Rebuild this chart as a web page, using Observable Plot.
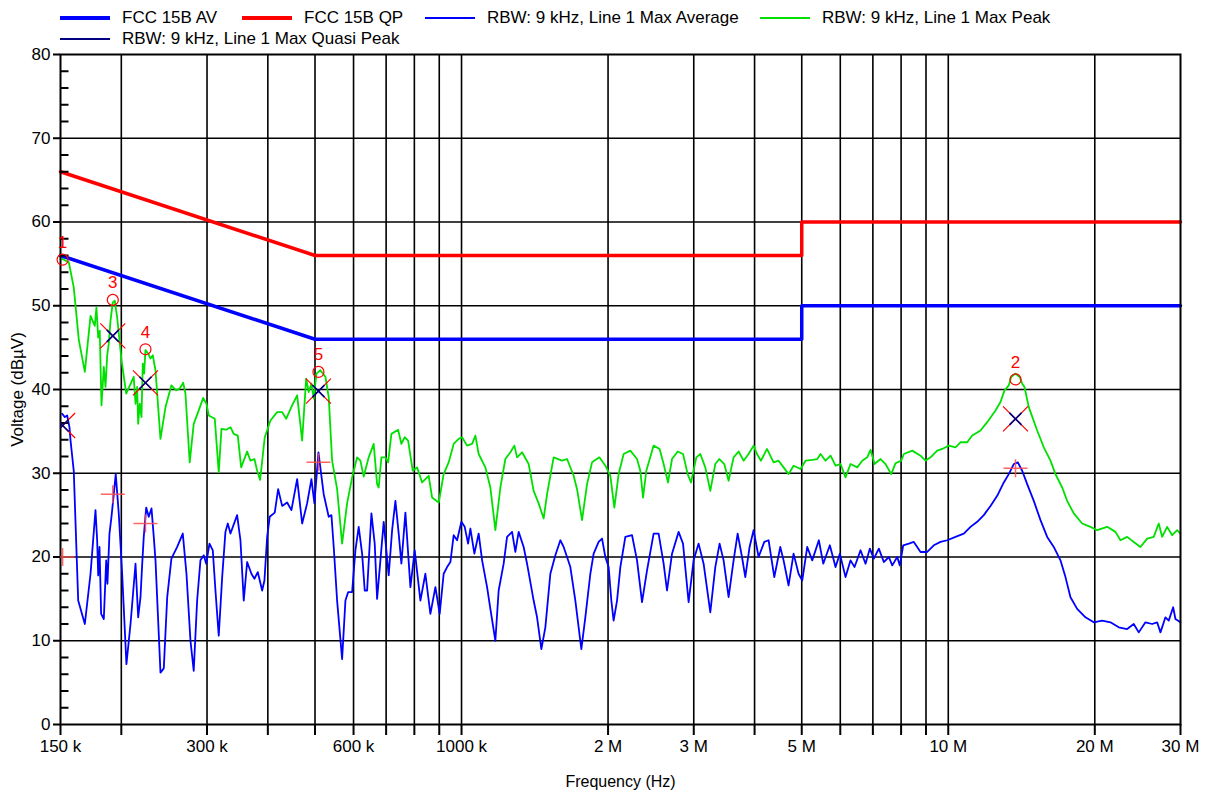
<!DOCTYPE html>
<html><head><meta charset="utf-8">
<script src="https://cdn.jsdelivr.net/npm/d3@7"></script>
<script src="https://cdn.jsdelivr.net/npm/@observablehq/plot@0.6"></script>
<style>
body{margin:0;background:#fff;font-family:"Liberation Sans",Arial,sans-serif;}
#legend{position:relative;width:1208px;height:44px;}
.item{position:absolute;display:flex;align-items:center;height:20px;font-size:17px;color:#000;white-space:nowrap}
.swatch{width:50px;margin-right:12px}
#chart svg{display:block}
</style></head><body>
<div id="legend"></div>
<div id="chart"></div>
<script>
// ---- data (frequency in kHz, level in dBµV) ----
const seriesNames = ["FCC 15B AV","FCC 15B QP","RBW: 9 kHz, Line 1 Max Average","RBW: 9 kHz, Line 1 Max Peak","RBW: 9 kHz, Line 1 Max Quasi Peak"];
const seriesColors = ["#0000ff","#ff0000","#0000ff","#00e000","#000080"];

const limitAV = [[150,56],[500,46],[5000,46],[5000,50],[30000,50]];
const limitQP = [[150,66],[500,56],[5000,56],[5000,60],[30000,60]];

const maxPeak = [[151.2,55.6],[156.0,55.2],[159.7,52.2],[163.6,45.9],[168.3,42.1],[172.9,48.8],[176.4,47.6],[177.8,49.8],[179.3,46.2],[180.6,47.0],
[182.1,38.1],[184.1,42.7],[185.6,40.3],[187.1,44.1],[188.5,45.5],[190.0,48.2],[192.1,50.4],[193.9,50.6],[196.1,48.6],[200.2,43.5],
[204.7,39.5],[212.1,41.5],[213.9,38.3],[215.6,40.3],[216.6,35.9],[218.2,38.3],[220.0,36.7],[221.4,43.1],[222.8,41.9],[224.2,44.7],
[227.1,44.3],[229.6,43.7],[232.1,44.1],[235.1,42.3],[240.7,34.1],[246.5,37.9],[253.5,40.5],[259.2,39.9],[263.4,40.1],[268.0,40.8],
[270.9,39.5],[276.4,31.3],[281.7,35.9],[288.5,37.5],[294.6,39.0],[299.2,38.3],[302.5,36.9],[311.2,36.5],[317.1,30.1],[321.2,35.3],
[328.5,35.2],[335.2,35.5],[340.4,34.7],[347.0,34.5],[352.6,30.7],[362.7,32.6],[368.4,31.5],[375.4,31.7],[380.3,30.3],[385.7,29.2],
[394.2,34.3],[405.0,36.3],[418.0,37.3],[428.0,37.3],[436.2,36.5],[448.7,38.1],[459.5,39.3],[470.5,33.9],[479.5,41.3],[485.3,39.7],
[491.6,40.7],[497.0,38.9],[503.4,41.9],[513.0,42.3],[525.3,41.5],[533.5,39.1],[542.2,31.5],[555.1,28.1],[568.4,21.6],[582.0,26.4],
[596.0,29.5],[610.2,31.9],[619.8,31.5],[629.5,29.6],[644.6,31.9],[660.0,33.5],[670.7,28.7],[675.8,28.3],[684.5,31.9],[697.6,31.9],
[706.6,31.3],[717.7,34.7],[740.8,35.2],[752.4,33.5],[764.3,34.3],[776.7,33.9],[793.8,30.3],[810.4,30.7],[829.8,28.9],[856.1,29.7],
[870.0,27.1],[897.6,26.5],[919.0,29.9],[941.0,31.3],[963.5,33.5],[986.6,34.1],[1002.6,34.3],[1026.6,33.3],[1051.2,33.5],[1067.7,34.5],
[1084.5,32.3],[1119.4,30.7],[1146.2,28.3],[1173.6,23.2],[1201.7,28.3],[1230.4,31.7],[1259.9,32.5],[1284.0,33.3],[1300.5,31.9],[1331.6,32.5],
[1373.7,31.1],[1406.6,27.9],[1440.3,26.4],[1474.8,24.6],[1498.8,27.5],[1546.2,31.9],[1608.9,31.5],[1647.4,31.7],[1699.6,29.7],[1727.2,28.1],
[1768.5,24.4],[1810.8,28.7],[1854.2,31.3],[1919.5,31.9],[1974.5,30.9],[2021.8,29.7],[2060.4,25.9],[2102.7,29.9],[2153.0,32.3],[2222.3,32.7],
[2293.9,31.7],[2329.9,30.3],[2360.0,27.1],[2397.0,30.3],[2481.2,33.3],[2552.5,32.9],[2601.3,31.1],[2656.1,28.9],[2706.8,31.7],[2780.2,32.6],
[2851.4,32.3],[2914.8,29.9],[2961.3,28.9],[3036.6,31.9],[3094.4,32.3],[3168.4,30.7],[3244.3,27.9],[3321.8,31.1],[3385.8,31.7],[3466.4,31.1],
[3537.5,29.1],[3622.1,31.9],[3708.7,32.6],[3797.5,31.5],[3888.4,32.3],[3981.4,33.3],[4046.1,32.3],[4123.3,31.5],[4242.0,32.9],[4376.3,31.3],
[4481.0,31.5],[4588.3,30.7],[4698.1,29.9],[4810.6,30.9],[4972,30.5],[5090.8,31.5],[5255.0,31.6],[5380.7,31.7],[5465.3,32.3],[5596.0,31.5],
[5730.0,32.1],[5867.0,30.9],[6007.5,31.1],[6151.1,29.5],[6298.4,31.1],[6501.2,30.7],[6656.9,31.5],[6816.0,31.9],[6923.2,32.8],[7055.4,31.1],
[7258.5,31.7],[7432.0,31.1],[7635.1,29.9],[7791.9,31.2],[8004.8,31.5],[8103.8,32.3],[8432.7,32.7],[8770.0,32.1],[8979.6,31.5],[9194.7,31.9],
[9490.8,32.7],[9718.1,32.9],[10025.6,33.3],[10348.4,33.1],[10596.3,33.7],[10937.5,33.7],[11199.4,34.5],[11647.4,35.1],[12022.4,36.1],[12503.4,37.5],
[12802.9,38.5],[13047.4,39.9],[13315.0,40.5],[13467.2,41.5],[13743.7,41.9],[14025.6,41.5],[14186.9,40.7],[14341.7,40.3],[14635.8,37.9],[15229.5,35.1],
[15711.8,33.1],[16218.0,31.5],[16605.6,29.9],[17141.1,28.3],[17550.9,26.7],[18106.7,25.2],[18841.5,24.0],[19595.2,23.6],[20226.2,23.2],[21205.7,23.6],
[22053.9,23.0],[22582.2,22.0],[23309.3,22.4],[24047.5,21.8],[24822.3,21.2],[25621.6,22.2],[26433.0,22.4],[27065.4,24.0],[27505.7,22.4],[28163.3,23.6],
[28837.7,22.6],[29527.1,23.2],[29991,22.8]];

const maxAverage = [[151.2,37.1],[153.1,36.7],[154.8,36.9],[156.5,35.5],[157.3,33.9],[159.7,30.3],[163.1,14.8],[168.3,12.0],[172.9,18.0],[177.0,25.6],
[178.4,22.0],[179.3,17.8],[180.4,21.2],[181.8,13.2],[184.1,12.6],[186.2,19.6],[187.3,16.8],[189.1,22.8],[190.9,24.8],[193.0,27.5],
[194.8,29.9],[197.6,25.2],[200.8,18.0],[204.9,7.2],[208.9,12.0],[213.9,19.2],[216.6,12.8],[219.0,15.2],[220.7,19.0],[222.4,22.4],
[225.0,25.9],[227.7,24.8],[230.7,25.8],[233.2,22.4],[235.1,19.6],[240.7,6.2],[244.5,6.7],[248.5,15.2],[253.5,19.8],[260.5,21.2],
[267.5,22.8],[272.2,18.0],[277.4,10.0],[281.7,6.4],[286.3,14.8],[290.8,19.6],[295.4,20.2],[298.8,19.2],[303.5,21.6],[308.3,20.8],
[312.2,16.0],[317.1,10.6],[322.3,17.6],[327.3,23.0],[331.0,24.0],[335.2,22.8],[345.9,25.0],[351.4,22.0],[356.9,14.8],[362.7,19.4],
[370.1,18.0],[375.4,17.4],[381.4,18.2],[389.4,16.0],[393.6,17.2],[398.7,22.4],[403.6,24.8],[413.3,25.3],[420.0,28.1],[428.0,26.1],
[438.2,26.5],[447.2,25.6],[459.5,29.3],[470.5,24.0],[481.7,26.4],[491.6,29.3],[498.6,26.4],[508.2,32.5],[521.0,27.5],[533.5,24.8],
[540.4,25.0],[546.3,21.2],[555.1,14.8],[568.4,7.8],[577.4,14.8],[584.8,15.8],[596.0,15.8],[605.3,20.8],[614.8,23.6],[624.8,20.4],
[632.6,16.0],[639.8,16.0],[652.9,25.2],[663.2,21.6],[670.7,15.0],[692.0,24.2],[708.5,17.8],[720.1,23.2],[731.4,26.7],[742.9,22.8],
[752.4,19.2],[766.8,25.3],[785.2,16.4],[801.3,20.8],[823.2,14.8],[842.8,18.0],[863.0,13.2],[883.7,16.4],[901.8,13.2],[919.0,18.0],
[934.0,18.8],[948.7,19.4],[963.5,22.6],[979.2,22.0],[999.3,24.2],[1015.1,23.6],[1031.5,21.6],[1042.8,23.4],[1062.7,20.4],[1084.5,22.8],
[1102.2,19.6],[1128.5,16.4],[1146.2,13.8],[1173.6,10.0],[1192.0,16.0],[1220.6,19.2],[1240.4,22.4],[1270.1,23.0],[1290.0,20.6],[1310.3,23.0],
[1341.6,21.2],[1363.4,19.2],[1406.6,14.8],[1429.5,12.8],[1458.9,9.0],[1486.7,11.6],[1522.3,18.0],[1558.7,20.2],[1596.0,22.0],[1621.1,21.2],
[1647.4,20.0],[1673.3,18.8],[1713.3,14.8],[1762.6,9.0],[1796.2,12.8],[1839.3,18.0],[1868.2,20.4],[1912.9,21.8],[1944.0,22.2],[1974.5,20.0],
[2005.5,18.8],[2031.4,14.8],[2053.5,12.4],[2086.9,14.8],[2119.7,18.8],[2170.4,22.4],[2240.3,22.6],[2293.9,19.6],[2348.8,14.6],[2405.0,18.4],
[2481.2,22.8],[2540.5,22.8],[2601.3,19.2],[2643.6,16.0],[2706.8,20.4],[2792.5,23.0],[2851.4,21.6],[2927.7,14.6],[2997.8,19.6],[3069.6,21.6],
[3143.0,19.2],[3244.3,13.4],[3321.8,18.8],[3390.0,21.6],[3454.8,19.6],[3537.5,15.2],[3622.1,19.6],[3692.3,22.8],[3769.1,20.0],[3828.2,17.6],
[3906.7,21.2],[3981.4,23.2],[4076.7,20.0],[4188.2,21.8],[4274.1,22.0],[4391.0,17.6],[4517.4,21.2],[4588.3,19.6],[4698.1,16.6],[4810.6,20.4],
[4925.6,18.0],[5012.3,17.2],[5132.1,21.2],[5255.0,19.6],[5421.3,22.0],[5535.8,19.2],[5710.7,21.4],[5867.0,18.8],[5987.3,20.4],[6151.1,17.6],
[6298.4,19.6],[6418.7,18.8],[6603.4,20.8],[6761.2,19.2],[6899.9,21.0],[7031.9,19.8],[7200.1,21.0],[7372.5,19.4],[7548.8,20.0],[7671.6,19.0],
[7855.0,20.0],[7951.7,19.0],[8081.4,21.4],[8297.6,21.6],[8496.2,21.8],[8770.0,20.6],[9052.4,20.6],[9339.1,21.4],[9640.0,21.8],[9950.4,22.0],
[10348.4,22.4],[10762.7,22.8],[11109.4,23.6],[11467.1,24.2],[11830.3,25.0],[12211.5,26.1],[12604.7,27.3],[13003.9,28.9],[13315.0,29.9],[13633.6,31.1],
[13898.1,31.3],[14186.9,30.3],[14526.0,28.7],[14986.0,26.7],[15468.9,24.4],[15967.0,22.4],[16472.6,21.2],[17003.4,19.6],[17409.8,17.6],[17826.8,15.2],
[18400.8,13.8],[19136.8,12.8],[19902.8,12.2],[20710.6,12.4],[21539.1,12.2],[22400.7,11.6],[23309.3,11.4],[24047.5,12.0],[24622.8,11.0],[25415.6,12.2],
[26235.2,12.0],[26862.4,12.2],[27284.7,11.0],[27936.8,12.8],[28376.1,12.4],[28975.0,14.0],[29289.7,12.6],[29991,12.2]];

const markerIds = ["1","3","4","5","2"];
const markerFreq = [151.5, 192.1, 224.2, 508.2, 13744];
const markerPeak = [55.5, 50.7, 44.8, 42.1, 41.2];
const markerQP = [35.7, 46.4, 40.8, 39.8, 36.5];
const markerAvg = [20.0, 27.5, 24.0, 31.3, 30.6];

const gridFreq = [200,300,400,500,600,700,800,900,1000,2000,3000,4000,5000,6000,7000,8000,9000,10000,20000];
const tickFreq = [150, ...gridFreq, 30000];
const tickLabelFreq = [150,300,600,1000,2000,3000,5000,10000,20000,30000];
const tickLabelText = ["150 k","300 k","600 k","1000 k","2 M","3 M","5 M","10 M","20 M","30 M"];
const gridDb = [10,20,30,40,50,60,70];
const majorDb = [0,10,20,30,40,50,60,70,80];
const minorDb = [2,4,6,8,12,14,16,18,22,24,26,28,32,34,36,38,42,44,46,48,52,54,56,58,62,64,66,68,72,74,76,78];

// ---- legend ----
const legendLayout = [
  {left:60, top:8, h:4}, {left:242, top:8, h:4}, {left:425, top:8, h:2},
  {left:760, top:8, h:2}, {left:60, top:29, h:2}
];
const legend = document.getElementById("legend");
seriesNames.forEach((name, i) => {
  const it = document.createElement("div");
  it.className = "item";
  it.style.left = legendLayout[i].left + "px";
  it.style.top = legendLayout[i].top + "px";
  const sw = document.createElement("div");
  sw.className = "swatch";
  sw.style.height = legendLayout[i].h + "px";
  sw.style.background = seriesColors[i];
  const tx = document.createElement("span");
  tx.textContent = name;
  it.appendChild(sw); it.appendChild(tx);
  legend.appendChild(it);
});

// ---- chart ----
const toRows = arr => arr.map(([f, v]) => ({f, v}));
const markers = markerIds.map((id, i) => ({id, f: markerFreq[i], pk: markerPeak[i], qp: markerQP[i], av: markerAvg[i]}));
const labelOf = new Map(tickLabelFreq.map((f, i) => [f, tickLabelText[i]]));

const symX = s => ({draw(ctx){ ctx.moveTo(-s,-s); ctx.lineTo(s,s); ctx.moveTo(-s,s); ctx.lineTo(s,-s); }});
const symPlus = {draw(ctx){ ctx.moveTo(-12,0); ctx.lineTo(12,0); ctx.moveTo(0,-9); ctx.lineTo(0,9); }};
const symMinor = {draw(ctx){ ctx.moveTo(0,0); ctx.lineTo(8,0); }};

const chart = Plot.plot({
  width: 1208, height: 750,
  marginLeft: 60, marginRight: 28, marginTop: 10, marginBottom: 70,
  style: {fontFamily: "'Liberation Sans', Arial, sans-serif", fontSize: "17px", color: "black", background: "white"},
  x: {type: "log", domain: [150, 30000]},
  y: {domain: [0, 80]},
  marks: [
    Plot.ruleX(gridFreq, {stroke: "black", strokeWidth: 1.6}),
    Plot.ruleY(gridDb, {stroke: "black", strokeWidth: 1.6}),
    Plot.line(toRows(maxPeak), {x: "f", y: "v", stroke: seriesColors[3], strokeWidth: 1.8}),
    Plot.line(toRows(maxAverage), {x: "f", y: "v", stroke: seriesColors[2], strokeWidth: 1.8}),
    Plot.line(toRows(limitQP), {x: "f", y: "v", stroke: seriesColors[1], strokeWidth: 3.5}),
    Plot.line(toRows(limitAV), {x: "f", y: "v", stroke: seriesColors[0], strokeWidth: 3.5}),
    Plot.dot(minorDb, {x: () => 150, y: d => d, symbol: symMinor, fill: "none", stroke: "black", strokeWidth: 2}),
    Plot.frame({stroke: "black", strokeWidth: 2}),
    Plot.axisX(tickFreq, {tickSize: 11, tickPadding: 4, tickFormat: d => labelOf.get(d) ?? "", stroke: "black", strokeWidth: 2, label: null, fontSize: 17}),
    Plot.axisY(majorDb, {tickSize: 7, tickPadding: 3, stroke: "black", strokeWidth: 2, label: null, fontSize: 17}),
    Plot.text(["Frequency (Hz)"], {frameAnchor: "bottom", dy: 62, fontSize: 16, textAnchor: "middle"}),
    Plot.text(["Voltage (dBµV)"], {frameAnchor: "left", dx: -43, rotate: -90, fontSize: 17, textAnchor: "middle"}),
    Plot.dot(markers, {x: "f", y: "av", symbol: symPlus, fill: "none", stroke: "#ff4a4a", strokeOpacity: 0.85, strokeWidth: 1.5, clip: true}),
    Plot.dot(markers, {x: "f", y: "qp", symbol: symX(12.5), fill: "none", stroke: "#ff0000", strokeWidth: 1.2, clip: true}),
    Plot.dot(markers, {x: "f", y: "qp", symbol: symX(6), fill: "none", stroke: "#000080", strokeWidth: 1.6, clip: true}),
    Plot.dot(markers, {x: "f", y: "pk", r: 5.5, fill: "none", stroke: "#ff0000", strokeWidth: 1.2}),
    Plot.text(markers, {x: "f", y: "pk", text: "id", dy: -17, fill: "#ff0000", fontSize: 17})
  ]
});
document.getElementById("chart").appendChild(chart);
</script>
</body></html>
